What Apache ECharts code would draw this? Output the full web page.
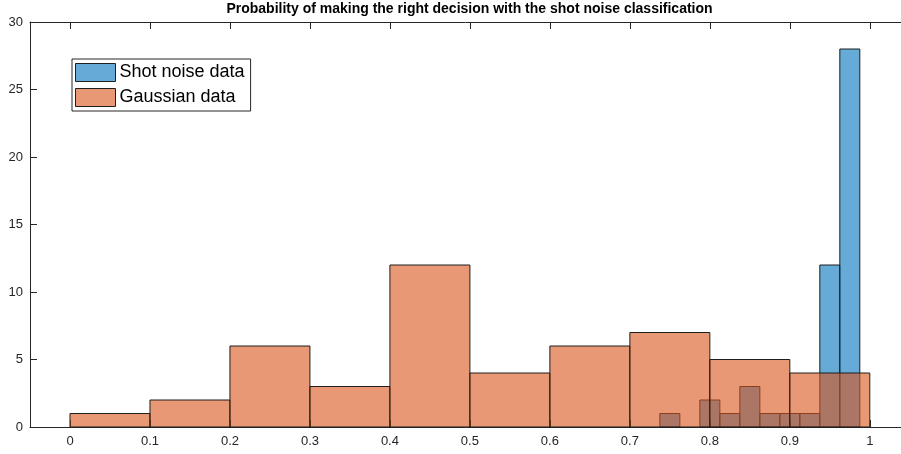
<!DOCTYPE html>
<html>
<head>
<meta charset="utf-8">
<script src="https://cdn.jsdelivr.net/npm/echarts@6/dist/echarts.min.js"></script>
<style>
html,body{margin:0;padding:0;background:#fff;overflow:hidden;}
#chart{width:901px;height:454px;}
</style>
</head>
<body>
<div id="chart"></div>
<script>
// ---- data ----
const titleText = 'Probability of making the right decision with the shot noise classification';
const seriesNames = ['Shot noise data', 'Gaussian data'];
// Shot noise histogram: bin edges (width 0.025) and counts
const shotEdges = [0.7375, 0.7625, 0.7875, 0.8125, 0.8375, 0.8625, 0.8875, 0.9125, 0.9375, 0.9625, 0.9875];
const shotCounts = [1, 0, 2, 1, 3, 1, 1, 1, 12, 28];
// Gaussian histogram: bin edges (width 0.1) and counts
const gaussEdges = [0, 0.1, 0.2, 0.3, 0.4, 0.5, 0.6, 0.7, 0.8, 0.9, 1.0];
const gaussCounts = [1, 2, 6, 3, 12, 4, 6, 7, 5, 4];
const xTickLabels = ['0', '0.1', '0.2', '0.3', '0.4', '0.5', '0.6', '0.7', '0.8', '0.9', '1'];
const yTicks = [0, 5, 10, 15, 20, 25, 30];

// ---- build ----
function bins(edges, counts) {
  const out = [];
  for (let i = 0; i < counts.length; i++) out.push([edges[i], edges[i + 1], counts[i]]);
  return out;
}
const blueFill = 'rgba(0,114,189,0.6)';
const orangeFill = 'rgba(217,83,25,0.6)';
const edgeCol = '#1e1e1e';
function histSeries(name, data, fill) {
  return {
    type: 'custom', name: name, data: data,
    encode: { x: [0, 1], y: 2 },
    renderItem: function (params, api) {
      const x0 = api.value(0), x1 = api.value(1), c = api.value(2);
      if (!c) return null;
      const p0 = api.coord([x0, c]);
      const p1 = api.coord([x1, 0]);
      return {
        type: 'rect',
        shape: { x: p0[0], y: p0[1], width: p1[0] - p0[0], height: p1[1] - p0[1] },
        style: { fill: fill, stroke: edgeCol, lineWidth: 1 }
      };
    },
    itemStyle: { color: fill, borderColor: edgeCol, borderWidth: 1 }
  };
}
function fmtX(v) {
  const k = Math.round(v * 10);
  if (Math.abs(v * 10 - k) > 1e-6 || k < 0 || k >= xTickLabels.length) return '';
  return xTickLabels[k];
}
const font = 'Liberation Sans, Arial, Helvetica, sans-serif';
const tickStyle = { show: true, inside: true, length: 7, lineStyle: { color: '#262626', width: 1 } };
// the reference's axes run from -0.05 to 1.05, but the picture is cut at about 1.039
const xBase = { type: 'value', min: -0.05, max: 1.039, splitNumber: 11, splitLine: { show: false } };

const option = {
  animation: false,
  backgroundColor: '#fff',
  title: {
    text: titleText, left: 469.5, top: 2, textAlign: 'center', padding: 0,
    textStyle: { fontFamily: font, fontSize: 14, fontWeight: 'bold', color: '#000' }
  },
  legend: {
    orient: 'vertical', left: 72, top: 59,
    padding: [4, 6, 4, 3], itemGap: 6,
    itemWidth: 40, itemHeight: 18,
    borderColor: '#262626', borderWidth: 1, backgroundColor: '#fff',
    textStyle: { fontFamily: font, fontSize: 18, color: '#000', padding: [0, 0, 0, -1] },
    data: [
      { name: seriesNames[0], icon: 'rect', itemStyle: { color: blueFill, borderColor: edgeCol, borderWidth: 1 } },
      { name: seriesNames[1], icon: 'rect', itemStyle: { color: orangeFill, borderColor: edgeCol, borderWidth: 1 } }
    ]
  },
  grid: { left: 30, right: 0, top: 22, bottom: 27, containLabel: false },
  xAxis: [
    Object.assign({}, xBase, {
      position: 'bottom',
      axisLine: { show: true, onZero: false, lineStyle: { color: '#262626', width: 1 } },
      axisTick: tickStyle,
      axisLabel: { formatter: fmtX, fontFamily: font, fontSize: 13, color: '#262626', margin: 8, showMinLabel: false, showMaxLabel: false }
    }),
    Object.assign({}, xBase, {
      position: 'top',
      axisLine: { show: true, onZero: false, lineStyle: { color: '#262626', width: 1 } },
      axisTick: tickStyle,
      axisLabel: { show: false }
    })
  ],
  yAxis: [
    {
      type: 'value', min: yTicks[0], max: yTicks[yTicks.length - 1], interval: 5, position: 'left',
      splitLine: { show: false },
      axisLine: { show: true, onZero: false, lineStyle: { color: '#262626', width: 1 } },
      axisTick: tickStyle,
      axisLabel: { fontFamily: font, fontSize: 13, color: '#262626', margin: 7 }
    }
  ],
  series: [
    histSeries(seriesNames[0], bins(shotEdges, shotCounts), blueFill),
    histSeries(seriesNames[1], bins(gaussEdges, gaussCounts), orangeFill)
  ]
};
const chart = echarts.init(document.getElementById('chart'), null, { renderer: 'canvas' });
chart.setOption(option);
</script>
</body>
</html>
